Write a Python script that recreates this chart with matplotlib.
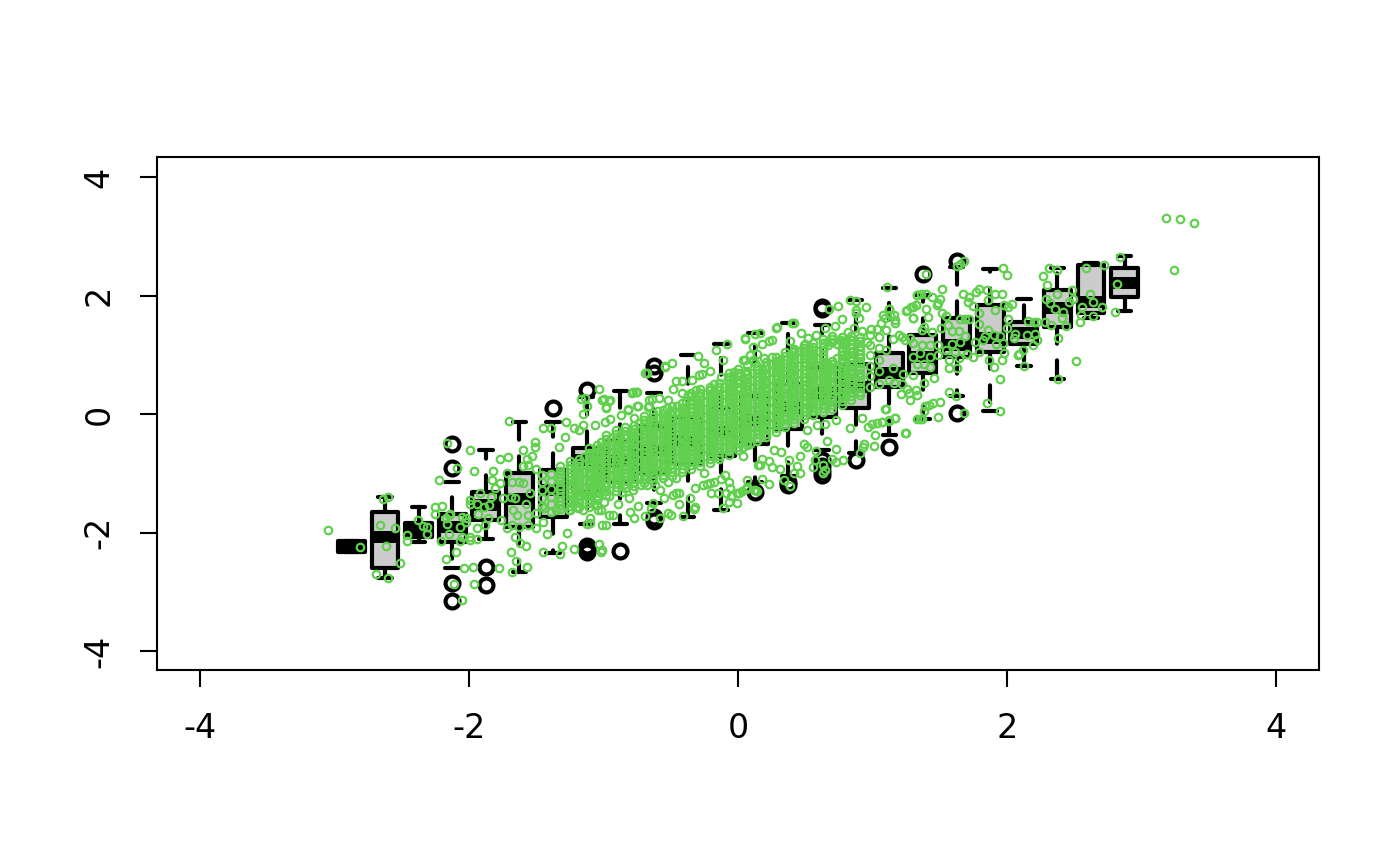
import numpy as np
import matplotlib
matplotlib.use("Agg")
import matplotlib.pyplot as plt

plt.rcParams['font.family'] = 'DejaVu Sans'

# boxes, one per 0.25 wide bin
box_x = [-2.875, -2.625, -2.375, -2.125, -1.875, -1.625, -1.375, -1.125, -0.875, -0.625, -0.375, -0.125,
         0.125, 0.375, 0.625, 0.875, 1.125, 1.375, 1.625, 1.875, 2.125, 2.375, 2.625, 2.875]
whisker_low = [-2.33, -2.77, -2.16, -2.60, -2.11, -2.67, -2.35, -1.86, -1.86, -1.50, -1.74, -1.62,
               -1.15, -1.05, -0.61, -0.66, -0.35, -0.08, 0.30, 0.05, 0.81, 0.59, 1.62, 1.74]
box_q1 = [-2.33, -2.60, -2.07, -2.16, -1.79, -1.90, -1.74, -1.31, -1.15, -1.00, -0.85, -0.70,
          -0.50, -0.25, -0.05, 0.10, 0.46, 0.69, 0.96, 1.05, 1.18, 1.47, 1.70, 1.97]
box_med = [-2.24, -2.07, -1.95, -1.90, -1.54, -1.44, -1.28, -0.78, -0.80, -0.60, -0.45, -0.30,
           -0.10, 0.10, 0.35, 0.45, 0.70, 0.96, 1.16, 1.28, 1.37, 1.79, 1.89, 2.21]
box_q3 = [-2.14, -1.65, -1.84, -1.69, -1.31, -0.99, -0.95, -0.57, -0.45, -0.20, -0.05, 0.10,
          0.30, 0.50, 0.80, 0.85, 1.03, 1.33, 1.62, 1.84, 1.55, 2.09, 2.51, 2.46]
whisker_high = [-2.14, -1.40, -1.57, -1.15, -0.61, -0.13, -0.13, 0.29, 0.39, 0.35, 1.00, 1.18,
                1.37, 1.54, 1.50, 1.92, 2.13, 2.01, 2.48, 2.45, 1.94, 2.46, 2.55, 2.67]
outliers = [[], [], [], [-0.50, -0.91, -2.85, -3.16], [-2.58, -2.89], [], [0.10], [0.41, -2.22, -2.27, -2.32],
            [-2.31], [0.82, 0.69, -1.74, -1.80], [], [], [-1.32], [-1.20, -1.15],
            [1.81, 1.77, -0.78, -0.88, -0.96, -1.03], [-0.77], [-0.56], [2.36], [2.58, 0.02], [], [], [], [], []]

tick_vals = [-4, -2, 0, 2, 4]
tick_text = ['-4', '-2', '0', '2', '4']

# scatter, lower left tail
green_left = [(-3.05, -1.96), (-2.81, -2.24), (-2.66, -1.88), (-2.55, -1.93), (-2.62, -2.22), (-2.51, -2.51),
              (-2.69, -2.70), (-2.60, -2.76), (-2.64, -1.43), (-2.60, -1.40), (-2.46, -2.15), (-2.46, -2.04),
              (-2.38, -1.79), (-2.34, -1.89), (-2.31, -1.91), (-2.31, -2.02), (-2.25, -1.69), (-2.25, -1.56),
              (-2.20, -1.55), (-2.22, -1.12), (-2.16, -0.49), (-2.09, -0.91), (-2.21, -2.15), (-2.15, -1.70),
              (-2.14, -1.69), (-2.17, -1.76), (-2.16, -1.86), (-2.15, -2.03), (-2.07, -1.91), (-2.05, -1.73),
              (-2.02, -1.75), (-2.02, -1.82), (-2.05, -2.07), (-2.07, -2.15), (-1.99, -2.07), (-1.99, -2.13),
              (-1.94, -2.11), (-2.10, -2.33), (-2.17, -2.44), (-2.11, -2.86), (-2.05, -3.14), (-2.04, -2.60),
              (-1.97, -2.58), (-1.96, -2.87), (-1.78, -2.60), (-1.68, -2.67), (-1.57, -2.58), (-1.65, -2.48),
              (-1.69, -2.32), (-1.62, -2.18), (-1.58, -2.23), (-1.66, -2.07), (-1.99, -0.61), (-1.96, -0.96),
              (-1.77, -0.76), (-1.71, -0.72), (-1.70, -0.12), (-1.60, -0.60), (-1.51, -0.47), (-1.51, -0.55),
              (-1.53, -0.71), (-1.57, -0.75), (-1.60, -0.88), (-1.56, -0.86), (-1.50, -0.92), (-1.82, -0.96),
              (-1.83, -1.11), (-1.77, -1.17), (-1.81, -1.25), (-1.99, -1.45), (-1.99, -1.52), (-1.94, -1.51),
              (-1.92, -1.34), (-1.84, -1.40), (-1.89, -1.56), (-1.85, -1.54), (-1.93, -1.68), (-1.86, -1.76),
              (-1.88, -1.87), (-1.94, -1.92), (-1.72, -1.00), (-1.68, -1.14), (-1.63, -1.14), (-1.60, -1.17),
              (-1.69, -1.40), (-1.66, -1.42), (-1.58, -1.51), (-1.55, -1.34), (-1.75, -1.42), (-1.67, -1.62),
              (-1.64, -1.70), (-1.56, -1.70), (-1.76, -1.79), (-1.72, -1.93), (-1.68, -1.88), (-1.63, -1.90),
              (-1.56, -1.88), (-1.50, -1.93), (-1.45, -1.82), (-1.44, -1.59), (-1.50, -1.67), (-1.42, -2.03),
              (-1.27, -2.00), (-1.45, -2.33), (-1.32, -2.37), (-1.31, -2.22), (-1.22, -2.27), (-1.03, -2.19),
              (-1.02, -2.33), (-1.01, -2.30), (-1.01, -1.88), (-0.96, -1.70), (-1.10, -1.76), (-1.12, -1.85),
              (-1.04, -1.62), (-1.07, -1.51), (-1.15, -1.62), (-1.19, -1.59), (-1.26, -1.62), (-1.35, -1.62),
              (-1.28, -0.13), (-1.22, -0.24), (-1.18, -0.27), (-1.29, -0.39), (-1.33, -0.56), (-1.45, -0.24),
              (-1.39, -0.24), (-1.15, 0.01), (-1.12, 0.14), (-1.17, 0.26), (-1.03, 0.42), (-1.14, 0.28),
              (-1.01, 0.23), (-0.96, 0.22), (-0.98, 0.12), (-0.79, 0.36), (-0.75, 0.38), (-0.74, 0.14),
              (-0.66, 0.23), (-0.69, 0.69), (-0.54, 0.80), (-0.82, 0.08), (-0.87, -0.02), (-0.95, -0.09),
              (-0.99, -0.13), (-1.06, -0.19), (-1.15, -0.18), (-0.67, 0.12), (-0.59, 0.27)]

# upper and lower edges of the middle part
green_mid_edges = [(0.05, 1.28), (-0.08, 1.18), (-0.16, 1.08), (-0.11, 0.91), (-0.30, 0.98), (-0.25, 0.86),
                   (-0.21, 0.73), (-0.49, 0.86), (-0.54, 0.81), (-0.68, 0.70), (-0.76, 0.38), (-0.78, 0.37),
                   (-0.46, 0.56), (-0.42, 0.56), (-0.48, 0.42), (-0.34, 0.57), (-0.29, 0.66), (-0.27, 0.68),
                   (-0.13, 0.63), (-0.03, 0.71), (0.04, 0.91), (0.09, 1.00), (0.14, 1.02), (0.13, 0.86),
                   (-1.00, 0.26), (-0.95, 0.24), (-0.98, 0.11), (-0.75, 0.13), (-0.82, 0.07), (-0.66, 0.13),
                   (-0.64, 0.26), (-0.52, 0.24), (-0.42, 0.35), (-0.37, 0.32),
                   (0.15, -0.86), (0.13, -1.28), (-0.58, -1.76), (-0.46, -1.34), (-0.44, -1.33), (-0.48, -1.36),
                   (-0.98, -1.87), (-1.10, -1.84), (-0.93, -1.71), (-0.80, -1.65), (-0.77, -1.76), (-0.74, -1.55),
                   (-0.69, -1.72), (-0.65, -1.59), (-0.63, -1.50), (-0.55, -1.42), (-0.52, -1.67), (-0.50, -1.71),
                   (-0.44, -1.51), (-0.41, -1.72), (-0.32, -1.56), (-0.33, -1.61), (-0.36, -1.42), (-0.32, -1.25),
                   (-0.20, -1.34), (-0.15, -1.34), (-0.26, -1.20), (-0.23, -1.18), (-0.21, -1.16), (-0.18, -1.15),
                   (-0.25, -1.00), (-0.13, -1.10), (-0.10, -1.03), (-0.07, -1.14), (-0.06, -1.25), (-0.09, -1.34),
                   (-0.11, -1.59), (-0.05, -1.39), (-0.01, -1.34), (-0.07, -1.48), (-0.01, -1.50), (0.01, -1.34),
                   (0.12, -1.28), (0.06, -1.27), (-0.89, -1.51), (-0.86, -1.32), (-0.81, -1.42), (-1.00, -1.48),
                   (-1.05, -1.54), (-1.02, -1.62), (-1.11, -1.57), (-0.96, -1.39), (-1.12, -1.36), (-0.78, -1.28),
                   (-0.72, -1.20), (-0.68, -1.20), (-0.62, -1.20), (-0.58, -1.28), (-0.52, -1.14), (-0.46, -1.08)]

# right of the core, upper side
green_right_top = [(1.11, 2.14), (0.83, 1.92), (0.88, 1.91), (0.74, 1.83), (0.68, 1.78), (0.95, 1.80),
                   (0.88, 1.75), (0.88, 1.70), (0.90, 1.62), (0.77, 1.60), (0.72, 1.49), (0.65, 1.45),
                   (0.29, 1.47), (0.28, 1.46), (0.40, 1.53), (0.42, 1.54), (0.16, 1.37), (0.13, 1.36),
                   (0.05, 1.27), (0.39, 1.24), (0.25, 1.25), (0.23, 1.23), (0.18, 1.18), (0.11, 1.14),
                   (0.47, 1.37), (0.52, 1.28), (0.58, 1.33), (0.50, 1.19), (0.67, 1.16), (0.76, 1.25),
                   (0.82, 1.39), (0.86, 1.45), (0.92, 1.41), (0.96, 1.22), (0.99, 1.43), (1.06, 1.54),
                   (1.12, 1.77), (1.16, 1.67), (1.09, 1.62), (1.03, 1.44), (1.10, 1.42), (1.17, 1.54),
                   (1.25, 1.74), (1.30, 1.81), (1.32, 1.84), (1.30, 1.62), (1.33, 2.01), (1.22, 1.30),
                   (1.28, 1.28), (0.05, 0.91), (0.11, 0.91), (0.19, 0.94), (0.25, 0.97), (0.42, 1.08),
                   (0.49, 1.05)]

# right of the core, lower side
green_right_low = [(1.24, -0.32), (1.17, -0.06), (1.12, -0.10), (1.07, -0.13), (1.03, -0.15), (1.00, -0.16),
                   (0.97, -0.22), (1.02, -0.36), (1.01, -0.54), (0.94, -0.50), (0.93, -0.55), (0.91, -0.66),
                   (0.83, -0.23), (0.92, -0.06), (1.10, 0.08), (0.73, -0.59), (0.70, -0.75), (0.73, -0.81),
                   (0.78, -0.77), (0.66, -0.46), (0.58, -0.63), (0.57, -0.77), (0.56, -0.89), (0.63, -0.86),
                   (0.63, -0.99), (0.65, -0.94), (0.51, -0.55), (0.49, -0.50), (0.46, -0.71), (0.51, -0.27),
                   (0.59, -0.19), (0.65, -0.16), (0.73, -0.10), (0.44, -0.88), (0.46, -1.00), (0.42, -1.00),
                   (0.39, -1.22), (0.34, -1.12), (0.38, -0.77), (0.31, -0.93), (0.32, -0.64), (0.27, -0.61),
                   (0.25, -0.89), (0.23, -0.79), (0.18, -0.75), (0.16, -0.86), (0.18, -1.10), (0.23, -1.18),
                   (0.14, -1.29), (0.07, -1.12), (0.07, -1.23), (0.03, -1.29), (0.04, -0.55), (0.09, -0.50),
                   (0.04, -0.70)]

# upper right tail
green_tail = [(1.97, 2.46), (2.00, 2.35), (2.31, 2.46), (2.27, 2.33), (2.30, 2.18), (1.68, 2.58), (1.65, 2.54),
              (1.63, 2.50), (1.40, 2.36), (1.52, 2.11), (1.33, 2.01), (1.36, 2.03), (1.40, 2.03), (1.44, 1.98),
              (1.50, 1.95), (1.49, 1.87), (1.48, 1.84), (1.32, 1.84), (1.29, 1.81), (1.26, 1.75), (1.12, 1.77),
              (1.40, 1.78), (1.52, 1.71), (1.55, 1.66), (1.30, 1.62), (1.41, 1.64), (1.67, 2.03), (1.72, 1.98),
              (1.71, 1.90), (1.75, 1.82), (1.77, 2.06), (1.79, 2.12), (1.85, 2.09), (1.91, 2.03), (1.96, 2.02),
              (1.98, 1.84), (2.01, 1.81), (2.04, 1.86), (1.86, 1.92), (1.91, 1.76), (1.79, 1.71), (2.01, 1.60),
              (2.00, 1.45), (1.86, 1.42), (1.84, 1.32), (1.90, 1.33), (1.95, 1.32), (1.92, 1.19), (1.97, 1.20),
              (1.82, 1.25), (1.76, 1.22), (1.79, 1.05), (1.75, 0.97), (1.87, 0.92), (1.96, 0.91), (1.98, 1.03),
              (1.90, 0.79), (1.95, 0.59), (1.85, 0.18), (1.95, 0.05), (2.16, 1.57), (2.20, 1.56), (2.22, 1.56),
              (2.06, 1.36), (2.05, 1.28), (2.15, 1.34), (2.21, 1.36), (2.22, 1.25), (2.19, 1.17), (2.12, 1.08),
              (2.09, 1.02), (2.08, 1.00), (2.13, 0.81), (2.28, 1.56), (2.29, 1.95), (2.32, 1.87), (2.37, 2.03),
              (2.38, 1.28), (2.38, 0.60), (2.42, 1.72), (2.33, 1.50), (2.36, 1.78), (2.44, 1.48), (2.41, 1.63),
              (2.46, 1.90), (2.54, 1.55), (2.49, 1.95), (2.48, 2.10), (2.37, 2.43), (2.56, 1.80), (2.62, 2.02),
              (2.64, 1.90), (2.59, 2.46), (2.72, 2.52), (2.55, 1.67), (2.51, 0.89), (2.64, 1.65), (2.71, 1.80),
              (2.84, 2.66), (2.82, 2.20), (2.80, 1.73), (3.18, 3.31), (3.29, 3.30), (3.39, 3.22), (3.24, 2.43)]

# lower side of the right part and the boxes around x = 1.5
green_right_mid = [(1.68, 0.02), (1.62, 0.31), (1.57, 0.37), (1.49, -0.05), (1.50, 0.21), (1.45, 0.18),
                   (1.42, 0.16), (1.39, 0.14), (1.38, 0.06), (1.37, -0.08), (1.35, -0.09), (1.33, -0.09),
                   (1.25, -0.32), (1.17, -0.06), (1.12, -0.11), (1.07, -0.13), (1.09, 0.09), (1.33, 0.33),
                   (1.28, 0.24), (1.32, 0.41), (1.27, 0.35), (1.21, 0.34), (1.26, 0.43), (1.38, 0.52),
                   (1.46, 0.61), (1.57, 0.78), (1.63, 0.78), (1.38, 1.47), (1.44, 1.39), (1.37, 1.42),
                   (1.51, 1.46), (1.56, 1.50), (1.65, 1.60), (1.69, 1.61), (1.72, 1.61), (1.79, 1.52),
                   (1.59, 1.41), (1.64, 1.41), (1.69, 1.32), (1.65, 1.22), (1.59, 1.19), (1.55, 1.08),
                   (1.61, 1.05), (1.70, 1.02), (1.64, 0.94), (1.57, 0.91), (1.43, 0.80), (1.38, 0.85),
                   (1.33, 0.85), (1.30, 0.97), (1.35, 1.03), (1.43, 0.97), (1.49, 0.99), (1.49, 1.17),
                   (1.43, 1.17), (1.37, 1.17), (1.30, 1.20), (1.24, 1.25), (1.20, 1.33), (1.15, 1.27),
                   (1.30, 0.66), (1.23, 0.68), (1.22, 0.50), (1.15, 0.77), (1.12, 0.57), (1.16, 0.52),
                   (1.10, 1.08), (1.17, 1.59), (1.13, 1.67), (1.08, 1.67)]

# dense core, read by columns
core_x = [-1.32, -1.25, -1.18, -1.11, -1.05, -0.98, -0.91, -0.84, -0.77, -0.70, -0.63, -0.56,
          -0.49, -0.42, -0.35, -0.28, -0.21, -0.14, -0.07, 0.00, 0.07, 0.14, 0.21, 0.28,
          0.35, 0.42, 0.49, 0.56, 0.63, 0.70, 0.77, 0.84, 0.91, 0.98, 1.05]
core_y = [[-1.60, -1.47, -1.33, -1.21, -1.06, -0.96],
          [-1.55, -1.38, -1.26, -1.12, -0.99, -0.86],
          [-1.50, -1.36, -1.23, -1.10, -0.97, -0.83],
          [-1.44, -1.30, -1.18, -1.03, -0.90, -0.76, -0.66],
          [-1.38, -1.25, -1.12, -0.98, -0.85, -0.71, -0.59],
          [-1.29, -1.16, -1.03, -0.91, -0.78, -0.64, -0.52, -0.42],
          [-1.23, -1.10, -0.97, -0.84, -0.72, -0.59, -0.46, -0.33],
          [-1.18, -1.05, -0.93, -0.80, -0.68, -0.54, -0.41, -0.29],
          [-1.15, -1.01, -0.89, -0.76, -0.63, -0.51, -0.38, -0.25],
          [-1.10, -0.97, -0.85, -0.72, -0.59, -0.46, -0.33, -0.21, -0.10],
          [-1.07, -0.94, -0.81, -0.68, -0.55, -0.42, -0.29, -0.16, -0.05],
          [-1.02, -0.90, -0.78, -0.64, -0.52, -0.39, -0.26, -0.12, 0.00],
          [-0.98, -0.85, -0.72, -0.60, -0.47, -0.34, -0.21, -0.08, 0.06],
          [-0.92, -0.80, -0.68, -0.55, -0.41, -0.29, -0.15, -0.03, 0.11],
          [-0.86, -0.74, -0.61, -0.48, -0.36, -0.23, -0.10, 0.03, 0.17, 0.30],
          [-0.81, -0.68, -0.56, -0.43, -0.30, -0.17, -0.04, 0.09, 0.23, 0.36],
          [-0.76, -0.63, -0.51, -0.38, -0.25, -0.12, 0.01, 0.14, 0.28, 0.40],
          [-0.70, -0.58, -0.44, -0.31, -0.19, -0.06, 0.07, 0.20, 0.33, 0.46],
          [-0.63, -0.50, -0.38, -0.25, -0.12, 0.01, 0.14, 0.27, 0.40, 0.52, 0.63],
          [-0.55, -0.43, -0.30, -0.17, -0.05, 0.08, 0.21, 0.33, 0.46, 0.58, 0.70],
          [-0.47, -0.35, -0.22, -0.09, 0.04, 0.17, 0.29, 0.42, 0.55, 0.67],
          [-0.40, -0.27, -0.14, -0.01, 0.12, 0.25, 0.38, 0.50, 0.63, 0.76],
          [-0.33, -0.20, -0.07, 0.06, 0.19, 0.32, 0.45, 0.57, 0.70, 0.82],
          [-0.24, -0.11, 0.02, 0.15, 0.28, 0.41, 0.53, 0.66, 0.79, 0.90],
          [-0.16, -0.03, 0.10, 0.23, 0.35, 0.48, 0.60, 0.73, 0.86, 0.98],
          [-0.09, 0.04, 0.17, 0.30, 0.43, 0.56, 0.68, 0.81, 0.93, 1.05],
          [-0.02, 0.11, 0.24, 0.36, 0.49, 0.62, 0.75, 0.88, 1.00, 1.12],
          [0.05, 0.18, 0.31, 0.44, 0.57, 0.70, 0.82, 0.95, 1.08, 1.20],
          [0.10, 0.23, 0.36, 0.49, 0.62, 0.74, 0.87, 1.00, 1.13, 1.26],
          [0.15, 0.29, 0.42, 0.55, 0.68, 0.80, 0.90, 1.22, 1.32],
          [0.22, 0.36, 0.49, 0.62, 0.75, 0.87, 0.99, 1.12, 1.30],
          [0.30, 0.45, 0.60, 0.75, 0.90, 1.04, 1.18, 1.32],
          [0.38, 0.54, 0.70, 0.86, 1.02, 1.15, 1.30],
          [0.45, 0.64, 0.82, 1.00, 1.17, 1.33],
          [0.50, 0.72, 0.92, 1.12, 1.30]]

# second pass over the core, the columns in between
core2_x = [-1.215, -1.145, -1.08, -1.015, -0.945, -0.875, -0.805, -0.735, -0.665, -0.595, -0.525, -0.455,
           -0.385, -0.315, -0.245, -0.175, -0.105, -0.035, 0.035, 0.105, 0.175, 0.245, 0.315, 0.385,
           0.455, 0.525, 0.595, 0.665, 0.735, 0.805]
core2_y = [[-1.45, -1.30, -1.17, -1.04, -0.91],
           [-1.37, -1.24, -1.11, -0.97, -0.84, -0.72],
           [-1.33, -1.19, -1.06, -0.92, -0.79, -0.65],
           [-1.23, -1.10, -0.96, -0.84, -0.70, -0.58, -0.47],
           [-1.17, -1.04, -0.91, -0.78, -0.65, -0.52, -0.40],
           [-1.13, -1.00, -0.87, -0.74, -0.61, -0.48, -0.35],
           [-1.08, -0.95, -0.83, -0.70, -0.57, -0.44, -0.31],
           [-1.04, -0.91, -0.78, -0.65, -0.52, -0.40, -0.27, -0.15],
           [-1.00, -0.88, -0.75, -0.62, -0.49, -0.36, -0.23, -0.10],
           [-0.96, -0.84, -0.71, -0.58, -0.45, -0.33, -0.20, -0.07, 0.05],
           [-0.92, -0.79, -0.66, -0.53, -0.40, -0.27, -0.14, -0.02, 0.10],
           [-0.86, -0.74, -0.61, -0.48, -0.35, -0.22, -0.10, 0.03, 0.14],
           [-0.80, -0.67, -0.55, -0.42, -0.29, -0.16, -0.03, 0.10, 0.22],
           [-0.75, -0.62, -0.49, -0.36, -0.24, -0.11, 0.02, 0.16, 0.28, 0.40],
           [-0.70, -0.57, -0.44, -0.31, -0.18, -0.05, 0.08, 0.21, 0.34],
           [-0.64, -0.51, -0.38, -0.25, -0.12, 0.01, 0.14, 0.27, 0.39, 0.50],
           [-0.57, -0.44, -0.31, -0.19, -0.06, 0.07, 0.20, 0.33, 0.46],
           [-0.49, -0.36, -0.23, -0.11, 0.02, 0.15, 0.28, 0.40, 0.52, 0.64],
           [-0.41, -0.28, -0.15, -0.02, 0.11, 0.24, 0.36, 0.49, 0.61],
           [-0.33, -0.20, -0.07, 0.06, 0.19, 0.32, 0.44, 0.57, 0.70],
           [-0.26, -0.13, 0.00, 0.13, 0.26, 0.38, 0.51, 0.64, 0.76],
           [-0.17, -0.04, 0.09, 0.22, 0.35, 0.47, 0.60, 0.72, 0.85],
           [-0.10, 0.03, 0.16, 0.29, 0.42, 0.55, 0.67, 0.80, 0.92],
           [-0.02, 0.11, 0.24, 0.37, 0.50, 0.62, 0.75, 0.87, 1.00],
           [0.05, 0.18, 0.30, 0.43, 0.56, 0.69, 0.82, 0.94, 1.07],
           [0.12, 0.25, 0.38, 0.51, 0.64, 0.76, 0.89, 1.02, 1.14],
           [0.17, 0.30, 0.43, 0.56, 0.68, 0.81, 0.94, 1.07],
           [0.22, 0.36, 0.49, 0.62, 0.74, 0.86, 1.22],
           [0.28, 0.42, 0.56, 0.69, 0.82, 0.94, 1.18],
           [0.36, 0.52, 0.68, 0.83, 0.98, 1.10, 1.25]]

# third pass, fills the ring holes and the band edges
core3_x = [-1.46, -1.39, -1.32, -1.25, -1.18, -1.11, -1.05, -0.98, -0.91, -0.84, -0.77, -0.70, -0.63, -0.56,
           -0.49, -0.42, -0.35, -0.28, -0.21, -0.14, -0.07, 0.00, 0.07, 0.14, 0.21, 0.28,
           0.35, 0.42, 0.49, 0.56, 0.63, 0.70, 0.77, 0.84, 0.91]
core3_y = [[-1.55, -1.42, -1.28, -1.15, -1.02],
           [-1.66, -1.52, -1.40, -1.27, -1.13, -1.01],
           [-1.54, -1.40, -1.27, -1.13, -1.01, -0.88],
           [-1.62, -1.47, -1.32, -1.19, -1.05, -0.92, -0.79],
           [-1.57, -1.43, -1.29, -1.16, -1.03, -0.90, -0.76],
           [-1.50, -1.37, -1.24, -1.11, -0.97, -0.83, -0.71, -0.58],
           [-1.45, -1.31, -1.18, -1.05, -0.92, -0.78, -0.65, -0.52],
           [-1.36, -1.22, -1.09, -0.97, -0.84, -0.71, -0.58, -0.47, -0.35],
           [-1.30, -1.16, -1.03, -0.90, -0.78, -0.65, -0.52, -0.39, -0.27],
           [-1.25, -1.12, -0.99, -0.86, -0.74, -0.61, -0.47, -0.35, -0.22],
           [-1.22, -1.08, -0.95, -0.82, -0.70, -0.57, -0.44, -0.31, -0.18, -0.07],
           [-1.17, -1.03, -0.91, -0.78, -0.65, -0.52, -0.39, -0.27, -0.15, -0.03],
           [-1.13, -1.00, -0.87, -0.74, -0.61, -0.48, -0.35, -0.22, -0.10, 0.02],
           [-1.08, -0.96, -0.84, -0.71, -0.58, -0.45, -0.32, -0.19, -0.06, 0.07],
           [-1.05, -0.91, -0.78, -0.66, -0.53, -0.40, -0.27, -0.14, -0.01, 0.13],
           [-0.98, -0.86, -0.74, -0.61, -0.48, -0.35, -0.22, -0.09, 0.04, 0.18],
           [-0.92, -0.80, -0.67, -0.54, -0.42, -0.29, -0.16, -0.03, 0.10, 0.24, 0.36],
           [-0.87, -0.75, -0.62, -0.49, -0.36, -0.23, -0.10, 0.03, 0.16, 0.30, 0.42],
           [-0.82, -0.69, -0.57, -0.44, -0.31, -0.18, -0.05, 0.08, 0.21, 0.34, 0.46],
           [-0.76, -0.64, -0.51, -0.38, -0.25, -0.12, 0.01, 0.14, 0.27, 0.40, 0.52],
           [-0.69, -0.56, -0.44, -0.31, -0.18, -0.05, 0.08, 0.20, 0.33, 0.46, 0.58, 0.70],
           [-0.61, -0.49, -0.36, -0.23, -0.11, 0.02, 0.15, 0.27, 0.40, 0.52, 0.64, 0.76],
           [-0.53, -0.41, -0.28, -0.15, -0.02, 0.11, 0.23, 0.36, 0.48, 0.61, 0.73, 0.83],
           [-0.46, -0.33, -0.20, -0.07, 0.06, 0.19, 0.32, 0.44, 0.57, 0.70, 0.82],
           [-0.39, -0.26, -0.13, 0.00, 0.13, 0.26, 0.39, 0.51, 0.64, 0.76, 0.88],
           [-0.30, -0.17, -0.04, 0.09, 0.22, 0.35, 0.47, 0.60, 0.73, 0.85, 0.96],
           [-0.22, -0.09, 0.04, 0.17, 0.29, 0.42, 0.54, 0.67, 0.80, 0.92, 1.04],
           [-0.15, -0.02, 0.11, 0.24, 0.37, 0.50, 0.62, 0.75, 0.87, 0.99, 1.10],
           [-0.08, 0.05, 0.18, 0.30, 0.43, 0.56, 0.69, 0.82, 0.94, 1.06, 1.17],
           [-0.01, 0.12, 0.25, 0.38, 0.51, 0.64, 0.76, 0.89, 1.02, 1.14],
           [0.04, 0.17, 0.30, 0.43, 0.56, 0.68, 0.81, 0.94, 1.07, 1.20],
           [0.09, 0.23, 0.36, 0.49, 0.62, 0.74, 0.85, 1.26],
           [0.16, 0.30, 0.43, 0.56, 0.69, 0.81, 0.93, 1.06, 1.22],
           [0.24, 0.38, 0.53, 0.68, 0.83, 0.97, 1.11, 1.25],
           [0.32, 0.46, 0.62, 0.78, 0.94, 1.08, 1.23]]

fig = plt.figure(figsize=(7, 4.33), dpi=200)
ax = fig.add_axes([157 / 1400, 1 - 670 / 866, (1319 - 157) / 1400, (670 - 157) / 866])

stats = []
for i in range(len(box_x)):
    stats.append({'med': box_med[i], 'q1': box_q1[i], 'q3': box_q3[i],
                  'whislo': whisker_low[i], 'whishi': whisker_high[i], 'fliers': outliers[i]})

ax.bxp(stats, positions=box_x, widths=0.2, capwidths=0.1, patch_artist=True, manage_ticks=False,
       boxprops=dict(facecolor='#CCCCCC', edgecolor='black', linewidth=1.5, joinstyle='round'),
       medianprops=dict(color='black', linewidth=4.3, solid_capstyle='butt'),
       whiskerprops=dict(color='black', linewidth=1.5, linestyle=(0, (4, 4)), dash_capstyle='round'),
       capprops=dict(color='black', linewidth=1.5, solid_capstyle='round'),
       flierprops=dict(marker='o', markerfacecolor='none', markeredgecolor='black', markeredgewidth=1.5, markersize=5))

# bxp puts its lines a little above the default zorder, the points go on top
green = np.array(green_left + green_mid_edges + green_right_top + green_right_low + green_tail + green_right_mid)
ax.plot(green[:, 0], green[:, 1], 'o', mfc='none', mec='#61D04F', mew=0.8, ms=2.7, zorder=3)
for cx, cy in zip(core_x + core2_x + core3_x, core_y + core2_y + core3_y):
    ax.plot([cx] * len(cy), cy, 'o', mfc='none', mec='#61D04F', mew=0.8, ms=2.7, zorder=3)

ax.set_xlim(-4.32, 4.32)
ax.set_ylim(-4.32, 4.34)
ax.set_xticks(tick_vals)
ax.set_xticklabels(tick_text)
ax.set_yticks(tick_vals)
ax.set_yticklabels(tick_text, rotation=90, va='center')
ax.tick_params(length=6, width=0.75, labelsize=12, pad=9)
for s in ax.spines.values():
    s.set_linewidth(0.75)

fig.savefig('out.png', dpi=200)
